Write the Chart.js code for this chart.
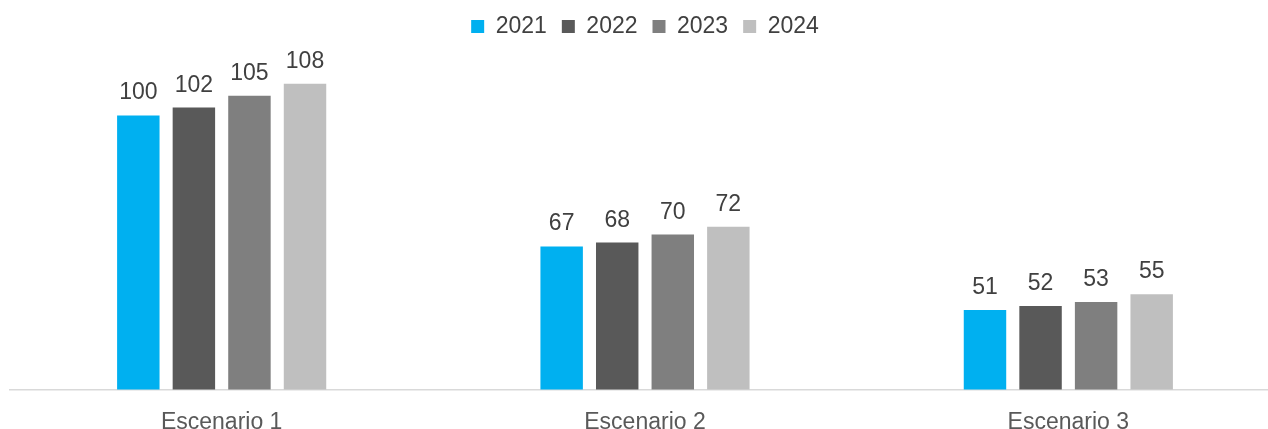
<!DOCTYPE html>
<html lang="es">
<head>
  <meta charset="UTF-8">
  <title>Escenarios</title>
  <script src="https://cdn.jsdelivr.net/npm/chart.js"></script>
  <style>
    html, body { margin: 0; padding: 0; background: #fff; overflow: hidden; }
    #wrap { width: 1282px; height: 429px; }
  </style>
</head>
<body>
<div id="wrap"><canvas id="grafica"></canvas></div>
<script>
const categorias = ["Escenario 1", "Escenario 2", "Escenario 3"];
const anios = ["2021", "2022", "2023", "2024"];
const valores2021 = [100, 67, 51];
const valores2022 = [102, 68, 52];
const valores2023 = [105, 70, 53];
const valores2024 = [108, 72, 55];
const colores = ["#00B0F0", "#595959", "#7F7F7F", "#BFBFBF"];

const fuente = "'Liberation Sans', Arial, sans-serif";
Chart.defaults.font.family = fuente;

// etiquetas de valor encima de cada barra
const etiquetas = {
  id: "etiquetas",
  afterDatasetsDraw(chart) {
    const ctx = chart.ctx;
    ctx.save();
    ctx.font = "23px " + fuente;
    ctx.fillStyle = "#404040";
    ctx.textAlign = "center";
    ctx.textBaseline = "alphabetic";
    chart.data.datasets.forEach((ds, i) => {
      chart.getDatasetMeta(i).data.forEach((bar, j) => {
        ctx.fillText(ds.data[j], bar.x, bar.y - 16);
      });
    });
    ctx.restore();
  }
};

const series = [valores2021, valores2022, valores2023, valores2024];

new Chart(document.getElementById("grafica"), {
  type: "bar",
  data: {
    labels: categorias,
    datasets: series.map((d, i) => ({
      label: anios[i],
      data: d,
      backgroundColor: colores[i],
      categoryPercentage: 0.525,
      barPercentage: 0.764
    }))
  },
  options: {
    responsive: true,
    maintainAspectRatio: false,
    animation: false,
    layout: { padding: { left: 10, right: 2, top: 0, bottom: -18 } },
    plugins: {
      legend: {
        position: "top",
        labels: {
          boxWidth: 13, boxHeight: 13, padding: 15,
          color: "#404040",
          font: { size: 23 }
        }
      },
      tooltip: { enabled: false }
    },
    scales: {
      x: {
        grid: { display: false },
        border: { color: "#D9D9D9", width: 1.5 },
        ticks: { color: "#595959", font: { size: 23 }, padding: 11 }
      },
      y: { display: false, min: 31, max: 117 }
    }
  },
  plugins: [etiquetas]
});
</script>
</body>
</html>
